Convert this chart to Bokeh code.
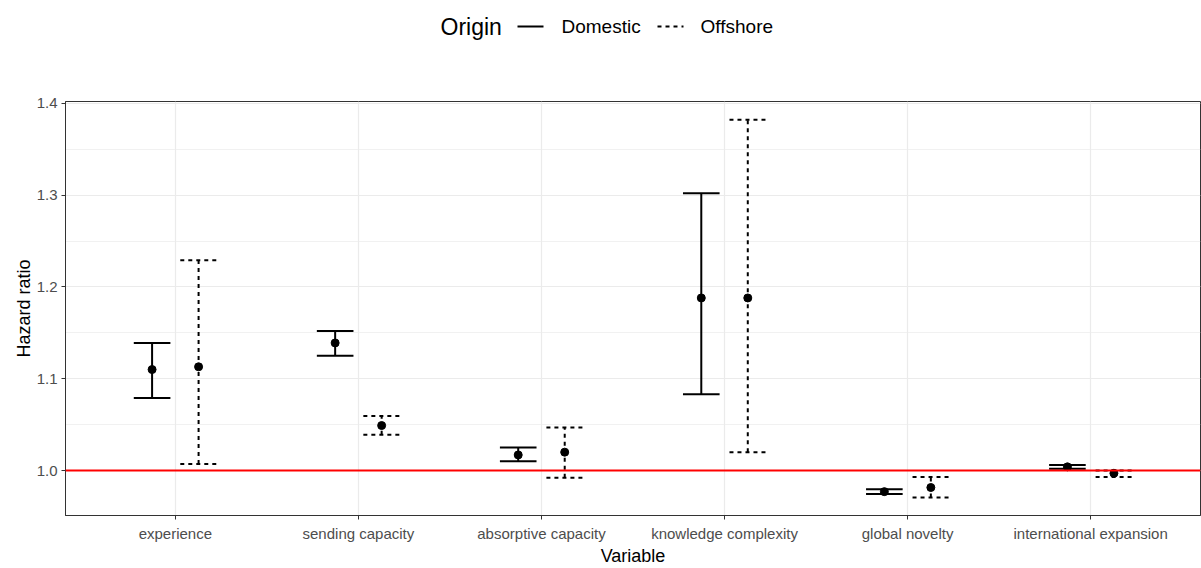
from bokeh.plotting import figure
from bokeh.layouts import column
from bokeh.models import (FactorRange, Range1d, FixedTicker,
                          ColumnDataSource, Span, PrintfTickFormatter)
from bokeh.core.properties import value
from bokeh.transform import dodge
from bokeh.embed import file_html
from bokeh.resources import INLINE

variables = ["experience", "sending capacity", "absorptive capacity",
             "knowledge complexity", "global novelty", "international expansion"]
dom_hr = [1.110, 1.139, 1.017, 1.188, 0.977, 1.004]
dom_lo = [1.079, 1.125, 1.010, 1.083, 0.9745, 1.002]
dom_hi = [1.139, 1.152, 1.025, 1.302, 0.9795, 1.006]
off_hr = [1.113, 1.049, 1.020, 1.188, 0.9815, 0.997]
off_lo = [1.007, 1.039, 0.992, 1.020, 0.9707, 0.993]
off_hi = [1.229, 1.0595, 1.047, 1.382, 0.993, 1.000]
y_ticks = [1.0, 1.1, 1.2, 1.3, 1.4]
y_minor = [0.95, 1.05, 1.15, 1.25, 1.35]
legend_title = "Origin"
legend_labels = ["Domestic", "Offshore"]

FONT = "Liberation Sans"
W = 1201
H = 568
LEG_H = 52
LEFT = 65
src = ColumnDataSource(dict(var=variables, dom_hr=dom_hr, dom_lo=dom_lo, dom_hi=dom_hi,
                            off_hr=off_hr, off_lo=off_lo, off_hi=off_hi))

p = figure(x_range=FactorRange(factors=variables, range_padding=0.1,
                               range_padding_units="absolute"),
           y_range=Range1d(0.951, 1.402),
           width=W, height=H - LEG_H, output_backend="svg", toolbar_location=None,
           min_border_left=LEFT, min_border_right=1, min_border_top=101 - LEG_H,
           min_border_bottom=50)

p.background_fill_color = "white"
p.border_fill_color = "white"
p.outline_line_color = "#333333"
p.outline_line_width = 1

OFF = 0.127
CAP = 0.1
xr = p.x_range

# Domestic
p.segment(x0=dodge('var', -OFF, range=xr), y0='dom_lo',
          x1=dodge('var', -OFF, range=xr), y1='dom_hi',
          source=src, line_color="black", line_width=2)
for col in ['dom_lo', 'dom_hi']:
    p.segment(x0=dodge('var', -OFF - CAP, range=xr), y0=col,
              x1=dodge('var', -OFF + CAP, range=xr), y1=col,
              source=src, line_color="black", line_width=2)
p.scatter(x=dodge('var', -OFF, range=xr), y='dom_hr', source=src, size=8,
          fill_color="black", line_color="black")

# Offshore
p.segment(x0=dodge('var', OFF, range=xr), y0='off_lo',
          x1=dodge('var', OFF, range=xr), y1='off_hi',
          source=src, line_color="black", line_width=2, line_dash="4 4")
for col in ['off_lo', 'off_hi']:
    p.segment(x0=dodge('var', OFF - CAP, range=xr), y0=col,
              x1=dodge('var', OFF + CAP, range=xr), y1=col,
              source=src, line_color="black", line_width=2, line_dash="4 4")
p.scatter(x=dodge('var', OFF, range=xr), y='off_hr', source=src, size=8,
          fill_color="black", line_color="black")

p.add_layout(Span(location=1.0, dimension="width", line_color="red", line_width=2))

# Axes
p.yaxis.ticker = FixedTicker(ticks=y_ticks, minor_ticks=y_minor)
p.yaxis.formatter = PrintfTickFormatter(format="%.1f")
for ax in (p.xaxis, p.yaxis):
    ax.axis_line_color = "#333333"
    ax.major_tick_line_color = "#333333"
    ax.major_tick_out = 4
    ax.major_tick_in = 0
    ax.minor_tick_line_color = None
    ax.major_label_text_font = FONT
    ax.major_label_text_font_size = "15px"
    ax.major_label_text_color = "#4D4D4D"
    ax.axis_label_text_font = FONT
    ax.axis_label_text_font_size = "18px"
    ax.axis_label_text_font_style = "normal"
    ax.axis_label_text_color = "black"
p.xaxis.axis_label = "Variable"
p.yaxis.axis_label = "Hazard ratio"
p.xaxis.major_label_standoff = 5
p.xaxis.axis_label_standoff = 1
p.yaxis.major_label_standoff = 4
p.yaxis.axis_label_standoff = 0

p.xgrid.grid_line_color = "#EBEBEB"
p.xgrid.grid_line_width = 1.2
p.ygrid.grid_line_color = "#EBEBEB"
p.ygrid.grid_line_width = 1.2
p.ygrid.minor_grid_line_color = "#EBEBEB"
p.ygrid.minor_grid_line_width = 0.7

# Legend strip above the plot (x and y in strip pixels, y counted from bottom)
lf = figure(width=W, height=LEG_H, output_backend="svg", toolbar_location=None,
            x_range=Range1d(LEFT, W - 1), y_range=Range1d(0, LEG_H),
            x_axis_type=None, y_axis_type=None, min_border=0,
            min_border_left=LEFT, min_border_right=1)
lf.outline_line_color = None
lf.grid.visible = False
YC = LEG_H - 26
lf.text(x=[440], y=[YC], text=[legend_title], text_font=value(FONT),
        text_font_size="23px", text_color="black", text_baseline="middle",
        text_align="left")
lf.text(x=[561, 700], y=[YC, YC], text=legend_labels, text_font=value(FONT),
        text_font_size="19px", text_color="black", text_baseline="middle",
        text_align="left")
lf.segment(x0=[517], y0=[YC], x1=[543], y1=[YC], line_color="black", line_width=2)
lf.segment(x0=[657], y0=[YC], x1=[683], y1=[YC], line_color="black", line_width=2,
           line_dash="4 4")

layout = column(lf, p, spacing=0)
open("out.html", "w").write(file_html(layout, INLINE))
